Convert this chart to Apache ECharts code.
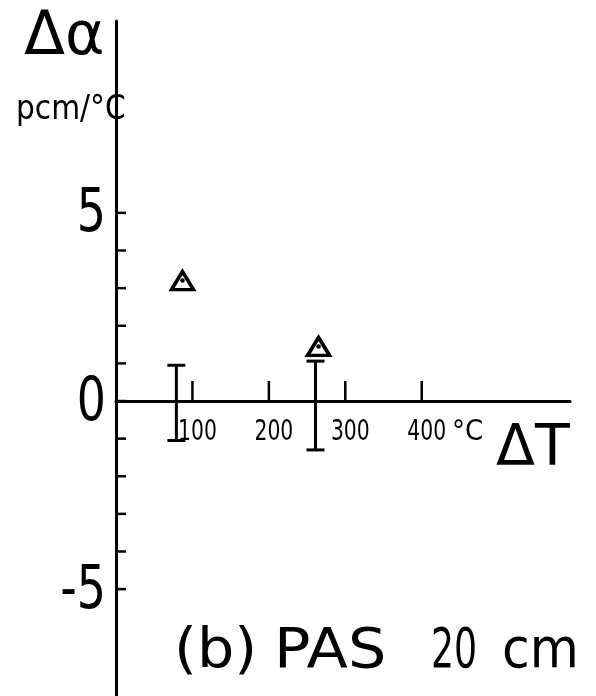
<!DOCTYPE html>
<html>
<head>
<meta charset="utf-8">
<script src="https://cdn.jsdelivr.net/npm/echarts@6/dist/echarts.min.js"></script>
<style>html,body{margin:0;padding:0;background:#fff;}#c{width:596px;height:696px;}</style>
</head>
<body>
<div id="c"></div>
<script>
// Data
var xTickValues = [100, 200, 300, 400];
var xTickLabels = ['100', '200', '300', '400'];
var yTickValues = [-5, -4, -3, -2, -1, 0, 1, 2, 3, 4, 5];
var yLabelValues = [5, 0, -5];
var yLabelTexts = ['5', '0', '-5'];
var pointX = [87, 265];
var pointY = [3.2, 1.45];
var errX = [79, 261];
var errLow = [-1.05, -1.3];
var errHigh = [0.95, 1.06];
var xMin = 0, xMax = 594, yMin = -8, yMax = 10.1;

var cond = '"DejaVu Sans Condensed","DejaVu Sans",sans-serif';
var wide = '"DejaVu Sans",sans-serif';

var chart = echarts.init(document.getElementById('c'), null, {renderer: 'canvas'});

var tickData = xTickValues.map(function (v, i) { return [v, 0]; });
var yTickData = yTickValues.map(function (v) { return [0, v]; });
var yLabData = yLabelValues.map(function (v) { return [0, v]; });
var errData = errX.map(function (x, i) { return [x, errLow[i], errHigh[i]]; });
var ptData = pointX.map(function (x, i) { return [x, pointY[i]]; });

var option = {
  backgroundColor: '#fff',
  animation: false,
  grid: {left: 116, top: 21, width: 454, height: 681, outerBoundsMode: 'none', containLabel: false},
  xAxis: {
    type: 'value', min: xMin, max: xMax,
    axisLine: {onZero: true, lineStyle: {color: '#000', width: 3}},
    axisTick: {show: false}, axisLabel: {show: false}, splitLine: {show: false}
  },
  yAxis: {
    type: 'value', min: yMin, max: yMax,
    axisLine: {show: true, onZero: false, lineStyle: {color: '#000', width: 3}},
    axisTick: {show: false}, axisLabel: {show: false}, splitLine: {show: false}
  },
  series: [
    {
      type: 'custom', silent: true, clip: false,
      data: tickData,
      renderItem: function (params, api) {
        var p = api.coord([api.value(0), 0]);
        return {
          type: 'group',
          children: [
            {type: 'line', shape: {x1: p[0], y1: p[1], x2: p[0], y2: p[1] - 20}, style: {stroke: '#000', lineWidth: 2.5}},
            {type: 'text', x: p[0] + 5, y: p[1] + 31, scaleX: 0.78,
             style: {text: xTickLabels[params.dataIndex], x: 0, y: 0, textAlign: 'center', textVerticalAlign: 'middle', font: '29px ' + cond, fill: '#000'}}
          ]
        };
      }
    },
    {
      type: 'custom', silent: true, clip: false,
      data: yTickData,
      renderItem: function (params, api) {
        var p = api.coord([0, api.value(1)]);
        return {type: 'line', shape: {x1: p[0], y1: p[1], x2: p[0] + 10, y2: p[1]}, style: {stroke: '#000', lineWidth: 2.5}};
      }
    },
    {
      type: 'custom', silent: true, clip: false,
      data: yLabData,
      renderItem: function (params, api) {
        var p = api.coord([0, api.value(1)]);
        return {type: 'text', x: p[0] - 10, y: p[1] + 3, scaleX: 0.85,
                style: {text: yLabelTexts[params.dataIndex], x: 0, y: 0, textAlign: 'right', textVerticalAlign: 'middle', font: '60px ' + cond, fill: '#000'}};
      }
    },
    {
      type: 'custom', silent: true, clip: false,
      data: errData,
      renderItem: function (params, api) {
        var lo = api.coord([api.value(0), api.value(1)]);
        var hi = api.coord([api.value(0), api.value(2)]);
        var w = 9;
        var st = {stroke: '#000', lineWidth: 3};
        return {
          type: 'group',
          children: [
            {type: 'line', shape: {x1: lo[0], y1: lo[1], x2: hi[0], y2: hi[1]}, style: st},
            {type: 'line', shape: {x1: lo[0] - w, y1: lo[1], x2: lo[0] + w, y2: lo[1]}, style: st},
            {type: 'line', shape: {x1: hi[0] - w, y1: hi[1], x2: hi[0] + w, y2: hi[1]}, style: st}
          ]
        };
      }
    },
    {
      type: 'scatter', silent: true,
      data: ptData,
      symbol: 'triangle', symbolSize: [22, 18],
      itemStyle: {color: '#fff', borderColor: '#000', borderWidth: 3.5, opacity: 1}
    },
    {
      type: 'scatter', silent: true,
      data: ptData,
      symbol: 'circle', symbolSize: 4.5,
      itemStyle: {color: '#000', opacity: 1}
    }
  ],
  graphic: [
    {type: 'text', left: 24, top: 8, style: {text: 'Δα', font: '60px ' + wide, fill: '#000'}},
    {type: 'text', left: 16, top: 94, style: {text: 'pcm/°C', font: '33px ' + cond, fill: '#000'}},
    {type: 'text', left: 452, top: 418, style: {text: '°C', font: '29px ' + cond, fill: '#000'}},
    {type: 'text', left: 496, top: 422, style: {text: 'ΔT', font: '57px ' + wide, fill: '#000'}},
    {type: 'text', left: 174, top: 624, scaleX: 1.05, style: {text: '(b)', font: '56px ' + wide, fill: '#000'}},
    {type: 'text', left: 274, top: 624, scaleX: 1.08, style: {text: 'PAS', font: '56px ' + wide, fill: '#000'}},
    {type: 'text', left: 431, top: 624, scaleX: 0.72, style: {text: '20', font: '56px ' + cond, fill: '#000'}},
    {type: 'text', left: 502, top: 624, style: {text: 'cm', font: '56px ' + cond, fill: '#000'}}
  ]
};
chart.setOption(option);
</script>
</body>
</html>
